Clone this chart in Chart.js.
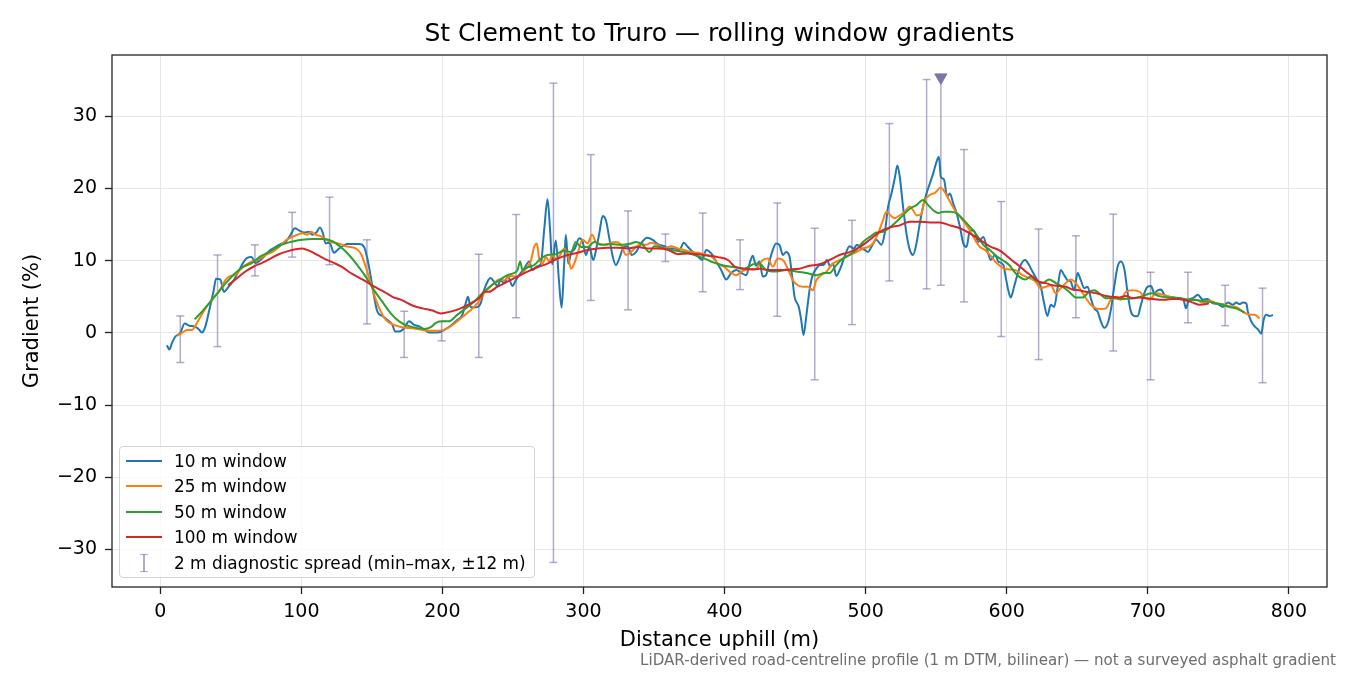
<!DOCTYPE html>
<html>
<head>
<meta charset="utf-8">
<script src="https://cdn.jsdelivr.net/npm/chart.js@4"></script>
<style>
  body { margin: 0; background: #fff; }
  #wrap { position: relative; width: 1350px; height: 675px; font-family: 'DejaVu Sans', sans-serif; }
  #legend { position: absolute; left: 119px; top: 446px; width: 414px; height: 130px;
            border: 1px solid #d4d4d4; border-radius: 4px; background: rgba(255,255,255,0.8);
            font-size: 16.9px; color: #000; }
  .row { position: absolute; left: 0; height: 20px; line-height: 20px; }
  .swatch { position: absolute; left: 6px; top: 9px; width: 36px; height: 2px; }
  .label { position: absolute; left: 54px; top: 0; white-space: nowrap; }
  #footer { position: absolute; right: 14px; top: 651px; font-size: 15.1px; line-height: 18px; color: #6e6e6e; white-space: nowrap; }
</style>
</head>
<body>
<div id="wrap">
  <canvas id="chart" width="1350" height="675"></canvas>
  <div id="legend"></div>
  <div id="footer">LiDAR-derived road-centreline profile (1 m DTM, bilinear) — not a surveyed asphalt gradient</div>
</div>
<script>
// 10 m window
const dist10 = [4.7,6.4,8.3,10.7,14.2,17.3,20.6,24.4,27.2,29.6,32,34.8,37.9,39.5,42.6,45,48.5,52.1,55.7,58.7,
  61.6,64.7,67.5,71,74.6,78.2,81.7,85.3,88.8,92.4,95.4,98.3,101.8,105.4,107.8,110.6,113.2,115.3,117.2,120,
  123.1,126.2,129.1,132.6,136.2,140.9,144.5,146.8,149.2,151.6,153.9,157.5,161,164.6,166.5,169.3,172.9,176.4,180,183.5,
  187.1,190.6,196.3,201.1,205.8,210.5,214.1,216.5,218.1,220,223.6,227.1,229.5,231.9,234.2,236.6,239,241.3,243.7,246.5,
  249.6,252,254.4,257.9,261.5,263.8,266.9,269.8,272.1,274.5,276.4,277.8,280.4,282.5,284.5,286.3,287.5,289.2,291.1,293.9,
  297,299.4,301.7,304.1,306.9,309.3,311.2,313.6,315.9,318.3,320.7,323,325.4,328.5,331.3,334.2,337.2,340.8,345.1,349.1,
  352.6,357.4,360.9,364.5,368,371.1,374,377.5,381.1,384,387,390.6,394.1,397.6,401.2,404.7,408.3,411.9,415.4,418,
  420,422.3,424.7,427.1,429.4,431.8,434.2,436.5,438.9,441.3,443.6,446,447.9,449.6,452.6,454.3,456,457.9,460.2,462.1,
  465,467.8,470.2,472.5,474.9,476.8,479.2,482,485.1,488.6,491.5,493.9,496.9,499.3,501.7,504,507.6,511.1,513.5,515.9,
  518.3,520.6,522.5,524.2,526.5,528.9,531.3,533.6,536,538.4,540.7,543.1,545.5,547.9,550.2,551.9,553.3,555.4,557.8,559.7,
  562.1,564.4,566.8,569.2,571.5,573.9,576.7,579.8,583.4,586.2,588.6,591.7,594,597.6,599.2,601.1,602.8,605.2,607.5,609.9,
  613,615.8,618.2,621.7,624.1,626.5,628.8,631.2,633.6,636,638.3,640.7,643.1,645.4,647.8,650.2,652.5,654.9,657.3,659.6,
  662,664.4,666.7,669.1,671.5,673.8,676.2,678.6,680.9,683.3,685.7,688,690.4,692.8,695.1,697.5,699.9,702.3,704.6,707,
  709.4,711.7,715.3,718.8,722.4,725.2,727.1,729,731.9,735.4,739,742.5,746.1,749.6,753.2,756.7,760.3,762.6,765,767.4,
  769.8,770.9,773.3,775.7,778.1,780.4,782.1,784,786.3,788.7];
const grad10 = [-1.7,-2.3,-1.4,-0.5,0,1.3,1.0,0.9,0.5,0.05,0.9,3.2,5.9,7.5,7.4,5.7,6.4,7.3,8.6,9.7,
  10.4,10.5,9.7,10.1,10.8,11.5,11.9,12.3,12.6,13.6,14.5,14.2,13.9,14.0,13.6,13.9,14.6,13.8,12.4,12.5,
  11.1,11.6,12.0,12.3,12.3,12.3,11.9,10.3,7.8,5.0,2.95,2.35,1.8,1.1,0.2,0.2,0.65,1.6,1.1,0.9,
  0.5,0.05,0.05,0.4,1.0,1.8,2.5,4.1,5.0,3.6,3.55,4.1,5.9,7.1,7.6,7.1,6.5,7.3,6.9,7.8,
  6.5,7.3,8.0,8.9,9.9,8.7,9.2,9.6,14.2,18.5,14.0,9.5,12.8,7.5,3.5,9.6,13.6,9.6,11.0,11.7,
  13.1,12.6,10.8,11.9,10.1,11.9,13.8,16.2,15.6,13.1,10.6,9.4,10.3,11.9,12.0,10.8,11.2,12.4,13.2,12.9,
  12.3,12.0,11.7,11.7,11.5,12.5,11.9,11.2,10.6,10.1,11.5,11.0,9.9,8.7,7.4,8.3,8.7,8.3,8.0,9.8,
  10.7,9.3,9.9,7.8,8.0,9.9,11.5,12.4,12.2,10.8,11.2,10.6,7.8,5.0,3.6,1.8,-0.3,2.3,5.9,7.8,
  8.9,9.4,9.4,10.1,9.2,9.6,7.9,8.9,10.6,12.0,11.7,12.2,11.7,11.5,11.2,11.9,12.9,12.2,13.8,17.5,
  19.3,21.4,23.2,21.6,17.5,13.8,11.5,10.8,12.4,15.2,17.5,19.3,20.7,22.1,23.7,24.4,21.6,21.3,18.9,19.3,
  17.9,16.6,14.7,12.4,11.9,14.2,14.2,12.6,13.3,11.5,10.1,10.8,9.9,9.4,7.8,5.9,4.9,6.4,8.0,9.4,
  10.1,9.4,8.5,7.3,6.4,4.1,2.35,3.9,3.6,6.2,8.7,8.0,7.3,7.1,5.9,8.3,7.3,6.2,6.4,4.8,
  3.4,2.95,1.6,0.7,1.3,3.2,6.4,9.2,9.9,8.9,5.5,2.95,2.35,2.3,3.9,5.5,6.4,6.5,5.5,5.9,
  6.0,5.3,5.0,4.9,4.8,4.6,3.4,4.6,4.8,5.3,4.6,4.7,4.1,4.0,3.6,4.2,3.9,4.2,4.0,4.2,
  4.1,2.95,1.6,0.9,0.5,-0.1,1.8,2.5,2.35,2.5];

// 25 m window
const dist25 = [12,15.4,18.9,22.5,24.9,28.4,32,36.7,41.4,46.2,49.7,53.3,56.8,60.4,65.1,69.9,74.6,79.3,84.1,88.8,
  93.5,97.1,100.7,104.2,107,110.1,113.7,117.2,120.8,124.3,127.9,131.4,135,138.5,142.1,145.6,149.2,152.8,156.3,159.9,
  164.6,169.3,174.1,178.8,183.5,189.5,195.4,200,205.8,212.9,218.8,224.8,229.5,233,236.6,240.2,243.7,248.4,252,255.5,
  259.1,262.6,265,266.9,268.6,270.9,273.3,275.7,278,281.1,284,286.3,289.2,291.1,293.4,295.8,299.4,302.9,306,308.8,
  312.4,315.9,319.5,323,326.6,330.1,333.7,337.2,340.8,344.4,347.9,352.6,357.4,362.1,366.9,371.6,376.3,381.1,385.8,390.6,
  395.3,400,404.7,408.3,411.9,416.6,422.3,427.1,430.6,434.2,437.7,441.3,444.8,448.4,451.9,455.5,459,462.6,465,468.5,
  472.5,475.6,479.6,483.9,488.6,493.4,498.1,501.7,505.2,508.8,511.9,514.7,517.5,520.6,524.2,527.7,531.3,533.6,536,538.9,
  541.9,545.5,549,553.1,556.1,559.7,563.2,566.8,570.4,573.9,577.5,581,584.6,588.1,591.7,595.2,598.1,601.6,606.3,611.1,
  615.8,620.5,624.1,627.7,631.2,634.8,638.3,641.9,645.4,649,652.5,656.1,659.6,663.2,666.7,670.3,673.8,677.4,680.9,684.5,
  689.2,694,697.5,701.1,705.8,710.5,715.3,720,724.8,729.5,734.2,739,743.7,748.4,753.2,757.9,762.6,767.4,772.1,775.7,
  779.2];
const grad25 = [-0.4,0,0.4,0.4,1.0,2.2,3.4,4.6,5.7,7.3,7.9,8.0,8.8,9.4,9.9,10.2,10.8,11.2,11.9,12.8,
  13.3,13.6,13.8,13.6,14.0,13.6,13.4,13.0,12.6,12.5,12.3,12.0,11.9,11.7,11.0,9.2,6.9,4.6,2.95,1.8,
  1.2,0.9,0.7,0.65,0.5,0.3,0.3,0.35,0.9,2.0,2.95,4.1,5.5,6.2,6.9,7.4,7.3,7.9,7.8,8.0,
  8.9,9.9,11.9,12.4,10.3,9.6,10.5,9.9,10.8,10.1,11.0,11.7,10.6,8.9,9.6,11.0,12.9,12.4,13.6,12.6,
  12.3,12.2,12.5,12.6,12.2,10.8,11.2,11.9,12.3,12.2,12.5,12.2,11.7,12.0,11.7,11.5,11.2,11.1,10.9,10.6,
  9.6,9.1,8.3,8.0,8.5,8.8,8.9,10.1,10.3,9.2,10.3,10.1,8.9,7.3,6.6,6.4,6.4,5.9,7.3,8.0,
  8.5,9.4,9.9,10.3,10.8,11.2,11.7,11.9,12.4,13.8,15.4,16.8,16.3,15.9,16.3,16.8,17.5,17.0,16.3,16.3,
  18.4,19.1,19.4,20.1,19.5,18.2,17.0,16.1,15.2,14.2,12.9,11.9,11.5,10.8,9.9,9.3,8.9,8.8,8.7,8.0,
  7.6,7.1,6.2,6.4,6.6,5.5,6.2,6.9,7.4,6.9,5.9,4.8,3.9,3.4,3.3,3.4,4.6,4.8,4.6,5.7,
  5.9,5.7,5.0,4.6,5.5,5.3,5.0,4.8,4.6,4.6,4.6,4.2,4.5,4.1,4.0,3.7,3.6,2.95,2.5,2.5,
  2.0];

// 50 m window
const dist50 = [24.4,29.6,35.5,41.4,47.4,53.3,59.2,65.1,71,77,82.9,88.8,94.7,100.7,107.8,114.9,122,127.9,133.8,139.7,
  145.6,151.6,157.5,163.4,169.3,175.3,181.2,187.1,191.8,195.4,199.9,204.6,210.5,216.5,222.4,228.3,234.2,240.2,246.1,250.8,
  253.2,255.1,256.7,260.3,265,269.8,274.5,280.4,286.3,291.1,294.6,298.2,302.9,307.6,312.4,319.5,326.6,333.7,337.2,342,
  346.7,350.3,357.4,364.5,371.6,378.7,385.8,392.9,400,407.1,414.2,420,424.7,429.4,436.5,443.7,450.8,457.9,465,470.9,
  474.4,479.2,483.9,488.6,493.4,498.1,502.9,507.6,512.3,517.1,521.8,526.5,531.3,536,540.7,544.3,547.9,551.4,555,559.7,
  564.4,569.2,573.9,578.6,583.4,588.1,592.9,597.6,602.3,604,608.7,613.4,617,620.5,625.3,630,634.8,639.5,644.2,649,
  653.7,658.4,662,665.5,670.3,676.2,682.1,689.2,696.3,702.3,708.2,715.3,722.4,729.5,736.6,743.7,750.8,757.9,762.6,768.6];
const grad50 = [1.9,2.95,4.3,5.7,7.1,8.3,9.2,9.7,10.6,11.2,11.9,12.4,12.7,12.9,13.0,13.0,12.7,11.9,10.8,9.4,
  7.8,5.9,4.3,2.7,1.6,1.0,0.7,0.55,0.8,1.4,1.6,1.6,2.5,3.4,4.3,5.5,6.5,7.3,8.0,8.3,
  8.7,9.9,8.7,9.1,9.4,10.3,10.8,10.9,11.4,11.2,12.6,11.9,11.9,12.6,12.2,12.3,12.2,12.4,12.6,12.2,
  11.2,12.0,11.7,11.4,11.2,10.8,10.3,9.7,9.3,9.1,8.9,9.5,9.6,8.7,8.5,8.7,8.5,8.3,8.0,8.3,
  8.3,9.4,10.3,10.8,11.5,12.6,13.3,13.9,14.0,14.6,15.4,16.3,17.2,17.7,18.4,17.7,17.0,16.6,16.8,16.8,
  16.6,15.7,14.7,13.6,12.2,11.5,10.6,10.0,9.3,8.8,7.8,7.4,7.8,7.3,6.9,7.4,6.9,6.4,5.7,4.9,
  4.9,5.7,5.9,5.5,4.8,4.8,4.7,4.8,5.1,5.5,5.1,4.9,4.8,4.6,4.5,4.3,4.0,3.6,3.4,2.8];

// 100 m window
const dist100 = [48,53.3,60.4,66.3,72.2,78.2,84.1,90,95.9,100.7,105.4,111.3,117.2,123.1,129.1,135,140.9,146.8,152.8,158.7,
  164.6,171.7,178.8,185.9,193,198.7,205.8,212.9,220,227.1,229.5,233,239,246.1,253.2,260.3,267.4,274.5,281.6,288.7,
  295.8,302.9,310,317.1,324.2,331.3,338.4,345.5,352.6,359.8,366.9,374,381.1,388.2,395.3,402.4,407.1,414.2,421.3,424.7,
  431.8,438.9,446,453.1,460.2,467.3,474.4,481.5,488.6,495.8,502.9,510,517.1,524.2,531.3,538.4,545.5,552.6,559.7,566.8,
  573.9,581,588.1,595.2,599.2,604,608.7,613.4,618.2,622.9,627.7,632.4,637.1,641.9,646.6,651.3,656.1,660.8,665.5,670.3,
  675,679.8,684.5,689.2,694,698.7,703.4,708.2,712.9,717.6,722.4,727.1,731.9,736.6,741.4,743.3];
const grad100 = [6.6,7.4,8.5,9.2,9.7,10.3,10.9,11.3,11.6,11.7,11.4,10.8,10.2,9.7,9.1,8.3,7.65,7.0,6.3,5.7,
  5.0,4.5,3.8,3.4,3.1,2.7,2.95,3.4,4.1,5.0,5.7,5.7,6.4,7.1,7.8,8.5,9.1,9.6,10.3,10.8,
  11.1,11.5,11.7,11.8,11.8,11.7,11.9,11.7,11.7,11.5,10.9,11.0,10.9,10.7,10.5,10.1,9.2,8.9,8.8,8.9,
  8.7,8.7,8.8,8.9,9.3,9.5,10.1,10.8,11.2,11.9,12.9,14.0,14.6,14.9,15.4,15.4,15.3,15.3,14.9,14.5,
  13.8,12.9,12.0,11.4,10.8,10.0,9.3,8.5,7.8,7.1,6.9,6.6,6.5,6.4,6.0,5.9,5.7,5.6,5.4,5.1,
  5.0,4.9,5.1,4.8,4.9,4.8,4.7,4.6,4.6,4.7,4.7,4.5,4.2,3.9,4.0,4.1];

// 2 m diagnostic spread (min-max within +/-12 m)
const spreadDist = [14.2,40.6,67.1,93.5,120,146.5,172.9,199.4,225.8,252.3,278.7,305.2,331.6,358.1,384.5,411,437.4,463.9,490.3,516.8,
  543.2,553.3,569.7,596.1,622.6,649,675.5,701.9,728.4,754.8,781.3];
const spreadMin = [-4.1,-1.9,7.9,10.5,9.45,1.25,-3.4,-1.1,-3.4,2.1,-31.8,4.5,3.2,9.9,5.7,6.0,2.3,-6.5,1.15,7.2,
  6.1,6.6,4.3,-0.5,-3.7,2.1,-2.5,-6.5,1.4,1.0,-6.9];
const spreadMax = [2.35,10.8,12.2,16.7,18.8,12.9,3.0,1.6,10.9,16.4,34.6,24.7,16.9,13.7,16.6,12.9,18.0,14.5,15.6,29.0,
  35.1,35.4,25.4,18.2,14.4,13.45,16.45,8.4,8.4,6.6,6.2];

// off-scale marker
const offScaleDist = [553.3];
const offScaleMark = [35.4];

const xTicks = [0, 100, 200, 300, 400, 500, 600, 700, 800];
const yTicks = [-30, -20, -10, 0, 10, 20, 30];

const FONT = "'DejaVu Sans', sans-serif";
const SPREAD_COLOR = 'rgba(128,115,172,0.6)';

function pts(xs, ys) {
  return xs.map((x, i) => ({x: x, y: ys[i]}));
}

// each spread bar: low point, high point, gap
const spreadPts = [];
spreadDist.forEach((x, i) => {
  spreadPts.push({x: x, y: spreadMin[i]});
  spreadPts.push({x: x, y: spreadMax[i]});
  spreadPts.push({x: x, y: null});
});

const series = [
  {label: '10 m window', xs: dist10, ys: grad10, color: '#1f77b4', order: 4},
  {label: '25 m window', xs: dist25, ys: grad25, color: '#ff7f0e', order: 3},
  {label: '50 m window', xs: dist50, ys: grad50, color: '#2ca02c', order: 2},
  {label: '100 m window', xs: dist100, ys: grad100, color: '#d62728', order: 1}
];

const datasets = series.map(s => ({
  label: s.label,
  data: pts(s.xs, s.ys),
  borderColor: s.color,
  borderWidth: 2,
  pointRadius: 0,
  cubicInterpolationMode: 'monotone',
  fill: false,
  order: s.order
}));

datasets.push({
  label: '2 m diagnostic spread (min\u2013max, \u00b112 m)',
  data: spreadPts,
  borderColor: SPREAD_COLOR,
  borderWidth: 1.5,
  pointStyle: 'line',
  pointRadius: 4,
  pointBorderWidth: 1.5,
  pointBorderColor: SPREAD_COLOR,
  spanGaps: false,
  order: 5
});

datasets.push({
  label: 'off scale',
  data: pts(offScaleDist, offScaleMark),
  showLine: false,
  pointStyle: 'triangle',
  rotation: 180,
  pointRadius: 7,
  pointBackgroundColor: '#8073ac',
  pointBorderColor: '#8073ac',
  pointBorderWidth: 1,
  order: 0
});

const framePlugin = {
  id: 'frame',
  afterDraw(chart) {
    const a = chart.chartArea;
    const ctx = chart.ctx;
    ctx.save();
    ctx.strokeStyle = '#222';
    ctx.lineWidth = 1.3;
    ctx.strokeRect(a.left, a.top, a.right - a.left, a.bottom - a.top);
    ctx.restore();
  }
};

function minusFmt(v) {
  return v < 0 ? '\u2212' + Math.abs(v) : String(v);
}

new Chart(document.getElementById('chart'), {
  type: 'line',
  data: {datasets: datasets},
  plugins: [framePlugin],
  options: {
    responsive: false,
    animation: false,
    layout: {padding: {left: 0, right: 23, top: 0, bottom: 0}},
    plugins: {
      legend: {display: false},
      tooltip: {enabled: false},
      title: {
        display: true,
        fullSize: false,
        text: 'St Clement to Truro \u2014 rolling window gradients',
        color: '#000',
        font: {family: FONT, size: 25, weight: 'normal'},
        padding: {top: 19, bottom: 6}
      }
    },
    scales: {
      x: {
        type: 'linear',
        min: -34.2,
        max: 827,
        afterFit(scale) { scale.height = 88; },
        afterBuildTicks(scale) { scale.ticks = xTicks.map(v => ({value: v})); },
        ticks: {color: '#000', font: {family: FONT, size: 19}, padding: 7, maxRotation: 0,
                callback: minusFmt},
        grid: {color: '#e6e6e6', lineWidth: 1, tickColor: '#222', tickLength: 7, tickWidth: 1.3},
        border: {display: false},
        title: {display: true, text: 'Distance uphill (m)', color: '#000',
                font: {family: FONT, size: 21}, padding: {top: 0, bottom: 22}}
      },
      y: {
        type: 'linear',
        min: -35.2,
        max: 38.5,
        afterFit(scale) { scale.width = 112; },
        afterBuildTicks(scale) { scale.ticks = yTicks.map(v => ({value: v})); },
        ticks: {color: '#000', font: {family: FONT, size: 19}, padding: 8, callback: minusFmt},
        grid: {color: '#e6e6e6', lineWidth: 1, tickColor: '#222', tickLength: 7, tickWidth: 1.3},
        border: {display: false},
        title: {display: true, text: 'Gradient (%)', color: '#000',
                font: {family: FONT, size: 21}, padding: {top: 20, bottom: 0}}
      }
    }
  }
});

// legend inside the axes, lower left
const legend = document.getElementById('legend');
const rowTops = [4, 29, 54.7, 80.3, 105.7];
series.forEach((s, i) => {
  const row = document.createElement('div');
  row.className = 'row';
  row.style.top = rowTops[i] + 'px';
  row.innerHTML = '<div class="swatch" style="background:' + s.color + '"></div>' +
                  '<div class="label">' + s.label + '</div>';
  legend.appendChild(row);
});
const eb = document.createElement('div');
eb.className = 'row';
eb.style.top = rowTops[4] + 'px';
eb.innerHTML =
  '<div style="position:absolute;left:23px;top:1px;width:1.5px;height:18px;background:' + SPREAD_COLOR + '"></div>' +
  '<div style="position:absolute;left:20px;top:1px;width:8px;height:1.5px;background:' + SPREAD_COLOR + '"></div>' +
  '<div style="position:absolute;left:20px;top:18px;width:8px;height:1.5px;background:' + SPREAD_COLOR + '"></div>' +
  '<div class="label">' + datasets[4].label + '</div>';
legend.appendChild(eb);
</script>
</body>
</html>
